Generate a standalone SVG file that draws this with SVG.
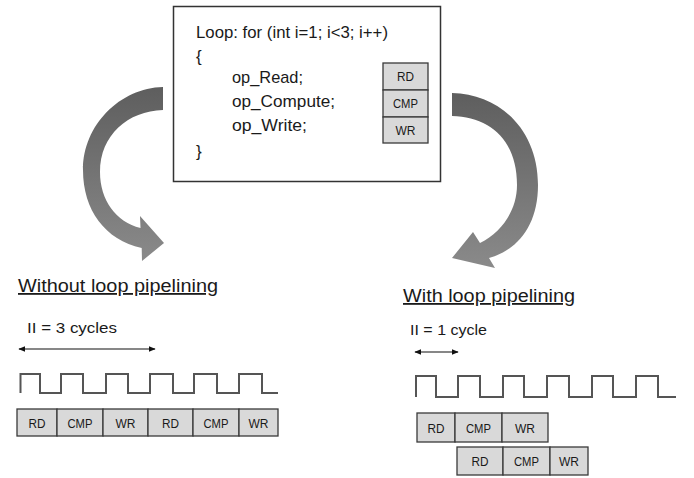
<svg xmlns="http://www.w3.org/2000/svg" width="694" height="478" viewBox="0 0 694 478">
<style>
text{font-family:"Liberation Sans",Arial,sans-serif;fill:#1a1a1a}
.code{font-size:17px}
.lbl{font-size:13.5px;text-anchor:middle}
.cell{fill:#d9d9d9;stroke:#3a3a3a;stroke-width:1.3}
.clk{fill:none;stroke:#555;stroke-width:2}
.hd{font-size:18px;text-decoration:underline}
.ii{font-size:15.5px}
.dim{stroke:#111;stroke-width:1.2;marker-start:url(#ah);marker-end:url(#ah)}
.bigarrow{fill:url(#g)}
</style>
<defs>
<marker id="ah" viewBox="0 0 10 10" refX="9" refY="5" markerWidth="7" markerHeight="7" orient="auto-start-reverse" markerUnits="userSpaceOnUse"><path d="M0,1 L10,5 L0,9 Z" fill="#111"/></marker>
<linearGradient id="g" x1="0" y1="0" x2="0" y2="1"><stop offset="0" stop-color="#5e5e5e"/><stop offset="1" stop-color="#8a8a8a"/></linearGradient>
</defs>
<rect width="694" height="478" fill="#fff"/>

<g id="code-box">
<rect x="173.5" y="6.5" width="267" height="175" fill="#fff" stroke="#333" stroke-width="1.5"/>
<text class="code" x="196" y="38" textLength="192" lengthAdjust="spacingAndGlyphs">Loop: for (int i=1; i&lt;3; i++)</text>
<text class="code" x="196" y="62">{</text>
<text class="code" x="232" y="83" textLength="71" lengthAdjust="spacingAndGlyphs">op_Read;</text>
<text class="code" x="232" y="107" textLength="103" lengthAdjust="spacingAndGlyphs">op_Compute;</text>
<text class="code" x="232" y="131" textLength="75" lengthAdjust="spacingAndGlyphs">op_Write;</text>
<text class="code" x="196" y="157">}</text>
<g id="stack">
<rect class="cell" x="383" y="63" width="45" height="27"/>
<rect class="cell" x="383" y="90" width="45" height="27"/>
<rect class="cell" x="383" y="117" width="45" height="26"/>
<text class="lbl" x="405.5" y="81" textLength="17" lengthAdjust="spacingAndGlyphs">RD</text>
<text class="lbl" x="405.5" y="108" textLength="25" lengthAdjust="spacingAndGlyphs">CMP</text>
<text class="lbl" x="405.5" y="135" textLength="20" lengthAdjust="spacingAndGlyphs">WR</text>
</g>
</g>

<g id="connectors">
<path class="bigarrow" d="M163,87 C120,88 83,125 83,170 C83,210 105,240 141.7,248 L142,261 L164,243 L140,216 L140.5,228 C116,222 100,200 100,172 C100,135 128,111 163,110 Z"/>
<path class="bigarrow" d="M452,93 C500,94 538,130 538,185 C538,225 518,250 489,258 L495,268 L452,258 L473,232 L480,243 C502,232 517,210 517,185 C517,140 490,117 452,116 Z"/>
</g>

<g id="without">
<text class="hd" x="18" y="292" textLength="200" lengthAdjust="spacingAndGlyphs">Without loop pipelining</text>
<text class="ii" x="27" y="333" textLength="90" lengthAdjust="spacingAndGlyphs">II = 3 cycles</text>
<line class="dim" x1="19" y1="349" x2="155" y2="349"/>
<path class="clk" d="M20.5,393 V374 H40 V393 H61 V374 H83 V393 H106 V374 H128 V393 H150 V374 H173 V393 H194 V374 H217 V393 H239 V374 H262 V393 H278"/>
<rect class="cell" x="17" y="409" width="40" height="27"/>
<rect class="cell" x="57" y="409" width="46" height="27"/>
<rect class="cell" x="103" y="409" width="45" height="27"/>
<rect class="cell" x="148" y="409" width="45" height="27"/>
<rect class="cell" x="193" y="409" width="46" height="27"/>
<rect class="cell" x="239" y="409" width="39" height="27"/>
<text class="lbl" x="37" y="427.5" textLength="17" lengthAdjust="spacingAndGlyphs">RD</text>
<text class="lbl" x="80" y="427.5" textLength="25" lengthAdjust="spacingAndGlyphs">CMP</text>
<text class="lbl" x="125.5" y="427.5" textLength="20" lengthAdjust="spacingAndGlyphs">WR</text>
<text class="lbl" x="170.5" y="427.5" textLength="17" lengthAdjust="spacingAndGlyphs">RD</text>
<text class="lbl" x="216" y="427.5" textLength="25" lengthAdjust="spacingAndGlyphs">CMP</text>
<text class="lbl" x="258.5" y="427.5" textLength="20" lengthAdjust="spacingAndGlyphs">WR</text>
</g>

<g id="with">
<text class="hd" x="403" y="302" textLength="172" lengthAdjust="spacingAndGlyphs">With loop pipelining</text>
<text class="ii" x="410" y="335" textLength="77" lengthAdjust="spacingAndGlyphs">II = 1 cycle</text>
<line class="dim" x1="415" y1="352" x2="458" y2="352"/>
<path class="clk" d="M416,397 V376 H436 V397 H458 V376 H480 V397 H503 V376 H524 V397 H547 V376 H569 V397 H592 V376 H613 V397 H636 V376 H658 V397 H676"/>
<rect class="cell" x="417" y="413" width="38" height="29"/>
<rect class="cell" x="455" y="413" width="47" height="29"/>
<rect class="cell" x="502" y="413" width="46" height="29"/>
<text class="lbl" x="436" y="432.5" textLength="17" lengthAdjust="spacingAndGlyphs">RD</text>
<text class="lbl" x="478.5" y="432.5" textLength="25" lengthAdjust="spacingAndGlyphs">CMP</text>
<text class="lbl" x="525" y="432.5" textLength="20" lengthAdjust="spacingAndGlyphs">WR</text>
<rect class="cell" x="457" y="447" width="46" height="28"/>
<rect class="cell" x="503" y="447" width="47" height="28"/>
<rect class="cell" x="550" y="447" width="38" height="28"/>
<text class="lbl" x="480" y="466" textLength="17" lengthAdjust="spacingAndGlyphs">RD</text>
<text class="lbl" x="526.5" y="466" textLength="25" lengthAdjust="spacingAndGlyphs">CMP</text>
<text class="lbl" x="569" y="466" textLength="20" lengthAdjust="spacingAndGlyphs">WR</text>
</g>
</svg>
